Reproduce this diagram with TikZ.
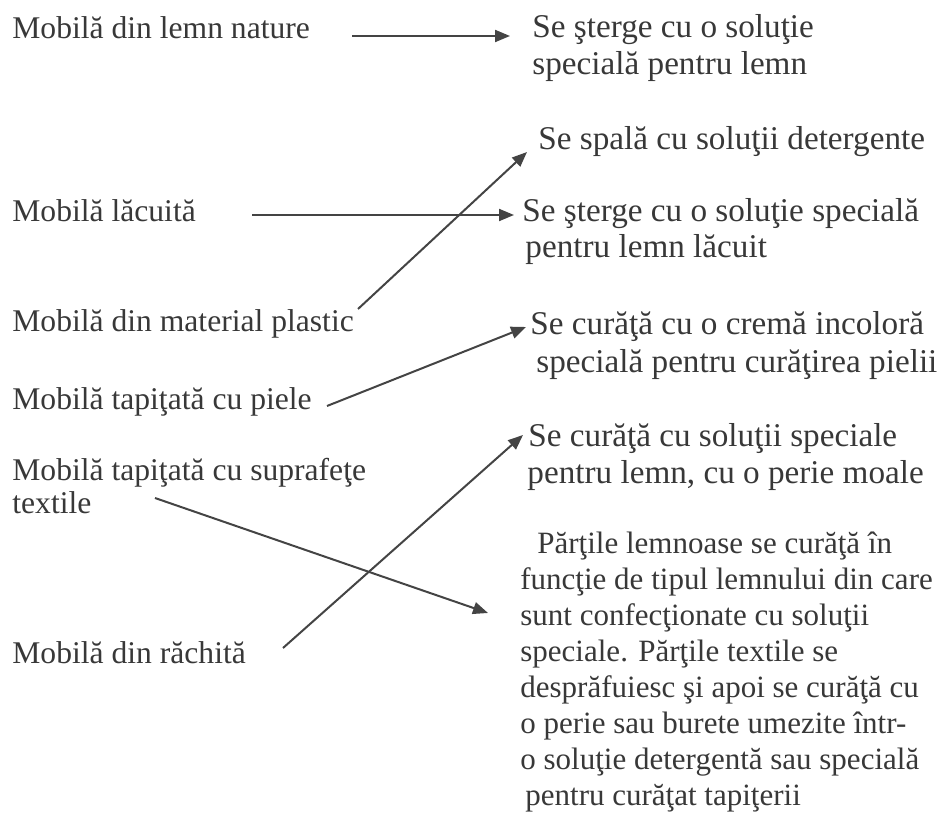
\documentclass[tikz,border=0pt]{standalone}
\usepackage{fontspec}
\setmainfont{Liberation Serif}
\usetikzlibrary{arrows.meta}
\definecolor{ink}{HTML}{383838}
\definecolor{lineink}{HTML}{444444}
\tikzset{
  ltxt/.style={anchor=base west, inner sep=0pt, text=ink, font=\fontsize{15.8pt}{18pt}\selectfont},
  rtxt/.style={anchor=base west, inner sep=0pt, text=ink, font=\fontsize{16.6pt}{20pt}\selectfont},
  par/.style={anchor=base west, inner sep=0pt, text=ink, font=\fontsize{15.5pt}{18pt}\selectfont},
  arr/.style={draw=lineink, line width=1pt, -{Triangle[length=7.5pt,width=6pt]}}
}
\begin{document}
\begin{tikzpicture}[x=0.5pt,y=-0.5pt]
\useasboundingbox (0,0) rectangle (945,817);
% left column
\node[ltxt] (L1) at (12,39) {Mobilă din lemn nature};
\node[ltxt] (L2) at (12,222) {Mobilă lăcuită};
\node[ltxt] (L3) at (12,332) {Mobilă din material plastic};
\node[ltxt] (L4) at (12,409) {Mobilă tapiţată cu piele};
\node[ltxt] (L5a) at (12,480) {Mobilă tapiţată cu suprafeţe};
\node[ltxt] (L5b) at (12,513) {textile};
\node[ltxt] (L6) at (12,663) {Mobilă din răchită};
% right column
\node[rtxt] (R1a) at (532,38) {Se şterge cu o soluţie};
\node[rtxt] (R1b) at (532,75) {specială pentru lemn};
\node[rtxt] (R2) at (538,150) {Se spală cu soluţii detergente};
\node[rtxt] (R3a) at (522,222) {Se şterge cu o soluţie specială};
\node[rtxt] (R3b) at (525,258) {pentru lemn lăcuit};
\node[rtxt] (R4a) at (530,335) {Se curăţă cu o cremă incoloră};
\node[rtxt] (R4b) at (536,372) {specială pentru curăţirea pielii};
\node[rtxt] (R5a) at (528,446) {Se curăţă cu soluţii speciale};
\node[rtxt] (R5b) at (527,483) {pentru lemn, cu o perie moale};
\node[par] (P1) at (537,553) {Părţile lemnoase se curăţă în};
\node[par] (P2) at (520,589) {funcţie de tipul lemnului din care};
\node[par] (P3) at (520,625) {sunt confecţionate cu soluţii};
\node[par] (P4) at (520,661) {speciale. Părţile textile se};
\node[par] (P5) at (520,697) {desprăfuiesc şi apoi se curăţă cu};
\node[par] (P6) at (520,733) {o perie sau burete umezite într-};
\node[par] (P7) at (520,769) {o soluţie detergentă sau specială};
\node[par] (P8) at (525,805) {pentru curăţat tapiţerii};
% arrows
\coordinate (s1) at (352,36);
\coordinate (s2) at (252,215);
\coordinate (s3) at (358,309);
\coordinate (s4) at (327,406);
\coordinate (s5) at (155,498);
\coordinate (s6) at (283,648);
\draw[arr] (s1) -- ([xshift=-11pt,yshift=1pt]R1a.base west);
\draw[arr] (s2) -- ([xshift=-4pt,yshift=3.5pt]R3a.base west);
\draw[arr] (s3) -- ([xshift=-5.5pt,yshift=-1pt]R2.base west);
\draw[arr] (s4) -- ([xshift=-2pt,yshift=4pt]R4a.base west);
\draw[arr] (s5) -- ([xshift=-16pt,yshift=6pt]P3.base west);
\draw[arr] (s6) -- ([xshift=-2.5pt,yshift=5.5pt]R5a.base west);
\end{tikzpicture}
\end{document}
